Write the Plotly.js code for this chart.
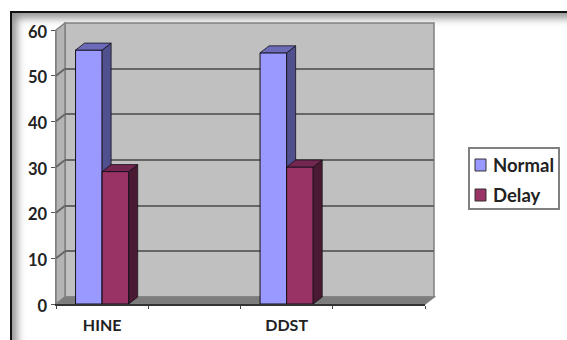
<!DOCTYPE html>
<html>
<head>
<meta charset="utf-8">
<script src="https://cdn.plot.ly/plotly-3.0.1.min.js"></script>
<style>
  html, body { margin: 0; padding: 0; background: #fff; overflow: hidden; }
  #frame {
    position: absolute; left: 10px; top: 11px; width: 570px; height: 345px;
    border-top: 2px solid #111; border-left: 2px solid #111;
    box-shadow: inset 5px 5px 8px #8f8f8f, inset 0 -12px 8px -10px #bbb;
    background: #fff;
  }
  #chart { position: absolute; left: 0; top: 0; width: 567px; height: 340px; }
</style>
</head>
<body>
<div id="frame"></div>
<div id="chart"></div>
<script>
// Screening results per assessment tool
const categories = ['HINE', 'DDST'];
const categoryPositions = [0, 2];
const normalValues = [55.6, 55];
const delayValues = [29, 30];
const yTicks = [0, 10, 20, 30, 40, 50, 60];
const seriesNames = ['Normal', 'Delay'];
const seriesColors = ['#9999ff', '#993366'];

const W = 567, H = 340;
// Pixel box of the front plane and the depth of the pseudo-3D extrusion
const front = { left: 56, right: 425, bottom: 304, top: 30 };
const depth = { x: 9, y: 7 };
const xMin = -0.5, xMax = 3.5, yMax = 60;

const px = v => v / W;
const py = v => 1 - v / H;
const dxUnits = depth.x * (xMax - xMin) / (front.right - front.left);
const dyUnits = depth.y * yMax / (front.bottom - front.top);
const yPx = v => front.bottom - v * (front.bottom - front.top) / yMax;

const barWidth = 0.288;
const fontFamily = 'Lato, sans-serif';
const axisFont = { family: fontFamily, size: 16.5, color: '#222', weight: 700 };

function poly(xs, ys, color, xa, ya) {
  return { type: 'scatter', mode: 'lines', x: xs, y: ys, fill: 'toself', fillcolor: color,
           line: { color: '#15101a', width: 0.8 }, hoverinfo: 'skip', showlegend: false, xaxis: xa, yaxis: ya };
}

// Builds a front bar plus its side and top faces for one series
function seriesTraces(name, values, offset, colors, xa, ya) {
  const xs = categoryPositions.map(c => c + offset);
  const traces = [{
    type: 'bar', name, x: xs, y: values, width: barWidth, showlegend: false,
    marker: { color: colors.front, line: { color: '#15101a', width: 1 } }, xaxis: xa, yaxis: ya
  }];
  xs.forEach((c, i) => {
    const l = c - barWidth / 2, r = c + barWidth / 2, v = values[i];
    traces.push(poly([r, r + dxUnits, r + dxUnits, r, r], [0, dyUnits, v + dyUnits, v, 0], colors.side, xa, ya));
    traces.push(poly([l, l + dxUnits, r + dxUnits, r, l], [v, v + dyUnits, v + dyUnits, v, v], colors.top, xa, ya));
  });
  return traces;
}

const data = [
  // Back wall carries the gridlines on its own hidden axes
  { type: 'scatter', mode: 'none', x: [xMin], y: [0], hoverinfo: 'skip', showlegend: false, xaxis: 'x', yaxis: 'y' },
  ...seriesTraces(seriesNames[0], normalValues, -barWidth / 2,
    { front: seriesColors[0], side: '#50508f', top: '#6b6bb8' }, 'x2', 'y2'),
  ...seriesTraces(seriesNames[1], delayValues, barWidth / 2,
    { front: seriesColors[1], side: '#4a1a33', top: '#732650' }, 'x3', 'y3')
];

// Wall, floor and the short slanted gridlines on the side wall
const wallLine = { color: '#808080', width: 1.5 };
const shapes = [
  { type: 'path', xref: 'paper', yref: 'paper', layer: 'below', fillcolor: '#c0c0c0', line: wallLine,
    path: `M${px(front.left + depth.x)},${py(front.top - depth.y)} L${px(front.right + depth.x)},${py(front.top - depth.y)} L${px(front.right + depth.x)},${py(front.bottom - depth.y)} L${px(front.left + depth.x)},${py(front.bottom - depth.y)} Z` },
  { type: 'path', xref: 'paper', yref: 'paper', layer: 'below', fillcolor: '#b4b4b4', line: wallLine,
    path: `M${px(front.left)},${py(front.top)} L${px(front.left + depth.x)},${py(front.top - depth.y)} L${px(front.left + depth.x)},${py(front.bottom - depth.y)} L${px(front.left)},${py(front.bottom)} Z` },
  { type: 'path', xref: 'paper', yref: 'paper', layer: 'below', fillcolor: '#7c7c7c', line: wallLine,
    path: `M${px(front.left)},${py(front.bottom)} L${px(front.left + depth.x)},${py(front.bottom - depth.y)} L${px(front.right + depth.x)},${py(front.bottom - depth.y)} L${px(front.right)},${py(front.bottom)} Z` },
  ...yTicks.filter(v => v > 0 && v < yMax).map(v => ({
    type: 'line', xref: 'paper', yref: 'paper', layer: 'below',
    x0: px(front.left), x1: px(front.left + depth.x), y0: py(yPx(v)), y1: py(yPx(v) - depth.y),
    line: { color: '#666666', width: 2 }
  }))
];

// Legend box with one swatch and label per series
const legendBox = { left: 469, right: 559, top: 148, bottom: 209 };
const legendRows = [165, 195];
shapes.push({ type: 'rect', xref: 'paper', yref: 'paper', layer: 'below',
  x0: px(legendBox.left), x1: px(legendBox.right), y0: py(legendBox.top), y1: py(legendBox.bottom),
  fillcolor: '#fff', line: { color: '#808080', width: 2 } });
const annotations = [];
seriesNames.forEach((name, i) => {
  const rowY = legendRows[i];
  shapes.push({ type: 'rect', xref: 'paper', yref: 'paper', layer: 'below',
    x0: px(475), x1: px(486), y0: py(rowY - 6), y1: py(rowY + 6),
    fillcolor: seriesColors[i], line: { color: '#333', width: 1 } });
  annotations.push({ xref: 'paper', yref: 'paper', x: px(493), y: py(rowY), xanchor: 'left', yanchor: 'middle',
    text: name, showarrow: false, font: { family: fontFamily, size: 18.5, color: '#222', weight: 700 },
    borderpad: 0, xshift: -1 });
});

const frontX = [px(front.left), px(front.right)];
const frontY = [py(front.bottom), py(front.top)];
const hiddenAxis = { visible: false, fixedrange: true };

const layout = {
  width: W, height: H,
  margin: { l: 0, r: 0, t: 0, b: 0 },
  paper_bgcolor: 'rgba(0,0,0,0)', plot_bgcolor: 'rgba(0,0,0,0)',
  showlegend: false,
  shapes, annotations,
  xaxis: {
    domain: [px(front.left + depth.x), px(front.right + depth.x)], range: [xMin, xMax],
    visible: false, fixedrange: true, anchor: 'y'
  },
  yaxis: {
    domain: [py(front.bottom - depth.y), py(front.top - depth.y)], range: [0, yMax],
    tickvals: yTicks, showgrid: true, gridcolor: '#666666', gridwidth: 2,
    showticklabels: false, ticks: '', showline: false, zeroline: false, fixedrange: true, anchor: 'x'
  },
  xaxis2: {
    domain: frontX, range: [xMin, xMax], anchor: 'y2', fixedrange: true,
    tickmode: 'array', tickvals: categoryPositions, ticktext: categories, ticks: '',
    tickfont: { ...axisFont, size: 16 }, ticklabelstandoff: 6, showgrid: false, zeroline: false,
    showline: true, linecolor: '#333', linewidth: 1.5,
    minor: { tickmode: 'array', tickvals: [-0.5, 0.5, 1.5, 2.5, 3.5], ticks: 'outside', ticklen: 3, tickcolor: '#444', showgrid: false }
  },
  yaxis2: {
    domain: frontY, range: [0, yMax], anchor: 'x2', fixedrange: true,
    tickmode: 'array', tickvals: yTicks, ticks: 'outside', ticklen: 4, tickcolor: '#555',
    tickfont: axisFont, ticklabelshift: 2, showgrid: false, zeroline: false,
    showline: true, linecolor: '#808080', linewidth: 1.5
  },
  xaxis3: { ...hiddenAxis, overlaying: 'x2', range: [xMin, xMax], anchor: 'y3' },
  yaxis3: { ...hiddenAxis, overlaying: 'y2', range: [0, yMax], anchor: 'x3' }
};

Plotly.newPlot('chart', data, layout, { displayModeBar: false, staticPlot: true });
</script>
</body>
</html>
